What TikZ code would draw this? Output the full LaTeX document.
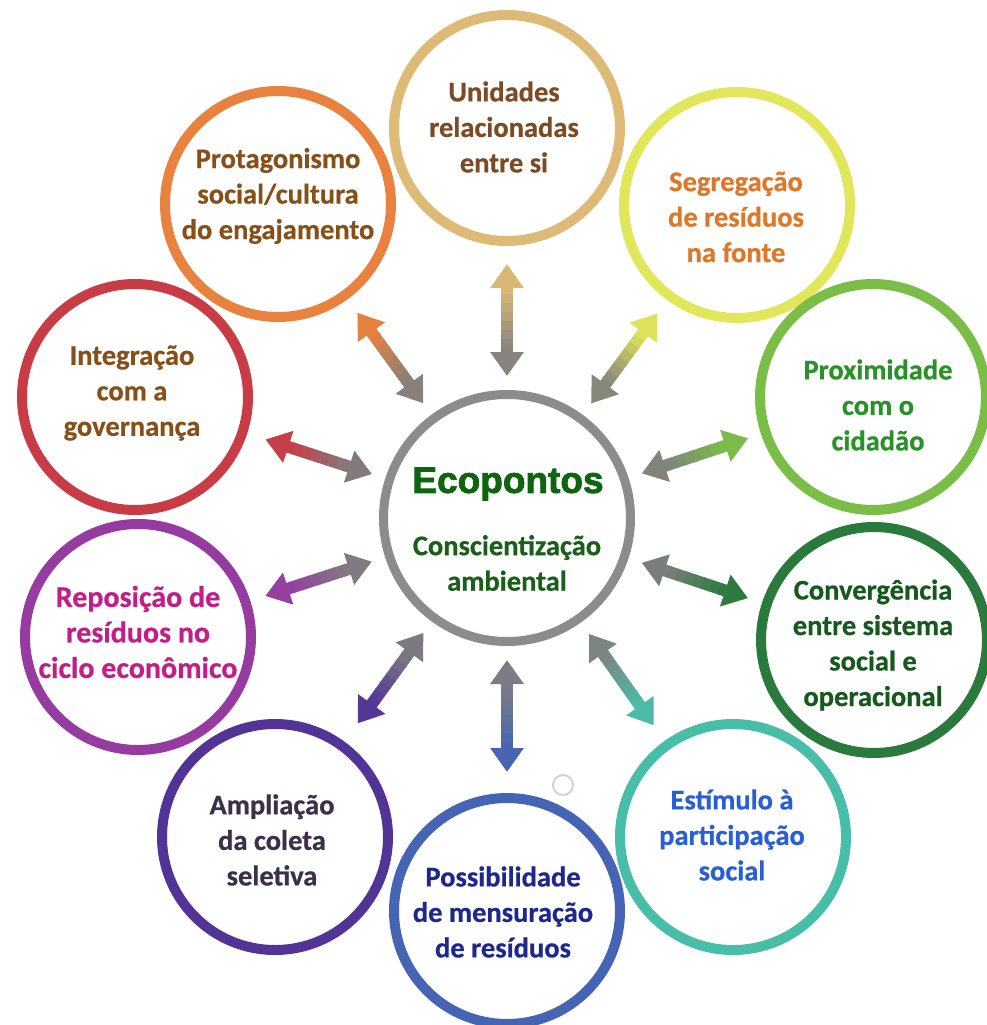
\documentclass[tikz,border=0pt]{standalone}
\usepackage{fontspec}
\setmainfont[BoldFeatures={FakeBold=0.6}]{Carlito}
\newfontfamily\ecofont[BoldFeatures={FakeBold=2.2}]{Liberation Sans}
\usetikzlibrary{calc,arrows.meta}
\definecolor{cUni}{RGB}{221,186,118}
\definecolor{tUni}{RGB}{125,75,35}
\definecolor{cSeg}{RGB}{226,230,90}
\definecolor{tSeg}{RGB}{222,120,40}
\definecolor{cPro}{RGB}{122,190,72}
\definecolor{tPro}{RGB}{40,145,40}
\definecolor{cCon}{RGB}{42,122,62}
\definecolor{tCon}{RGB}{22,88,30}
\definecolor{cEst}{RGB}{72,190,168}
\definecolor{tEst}{RGB}{40,95,215}
\definecolor{cPos}{RGB}{70,100,180}
\definecolor{tPos}{RGB}{30,40,140}
\definecolor{cAmp}{RGB}{82,52,150}
\definecolor{tAmp}{RGB}{58,48,72}
\definecolor{cRep}{RGB}{150,60,160}
\definecolor{tRep}{RGB}{195,30,135}
\definecolor{cInt}{RGB}{200,60,70}
\definecolor{tInt}{RGB}{135,80,25}
\definecolor{cPrt}{RGB}{232,130,62}
\definecolor{cCen}{RGB}{140,140,140}
\definecolor{tEco}{RGB}{15,100,15}
\definecolor{tAmb}{RGB}{25,95,25}
\definecolor{cDot}{RGB}{210,210,210}
\tikzset{
  ring/.style={circle, draw=#1, line width=10pt, minimum size=226pt, inner sep=0pt},
  lbl/.style={text=#1, align=center, inner sep=0pt, font=\fontsize{28.5}{35.5}\selectfont\bfseries},
}
\newcommand\duo[2]{%
  \draw[line width=12pt, #2!8!gray, {Triangle[length=24pt,width=32pt]}-]
     ($(c)!142pt!(#1)$) -- ($(c)!172pt!(#1)$);
  \foreach \k in {0,...,5}{
    \pgfmathsetmacro\da{170+\k*9}
    \pgfmathsetmacro\db{\da+10}
    \pgfmathsetmacro\pc{int(15+\k*14)}
    \draw[line width=12pt, #2!\pc!gray] ($(c)!\da pt!(#1)$) -- ($(c)!\db pt!(#1)$);
  }
  \draw[line width=12pt, #2!95!gray, -{Triangle[length=24pt,width=32pt]}]
     ($(c)!224pt!(#1)$) -- ($(c)!254pt!(#1)$);
}
\begin{document}
\begin{tikzpicture}[x=1pt,y=-1pt]
\useasboundingbox[fill=white] (0,0) rectangle (987,1025);
% centre
\node[circle, draw=cCen, line width=9pt, minimum size=247pt, inner sep=0pt] (c) at (507,518) {};
\node[text=tEco, inner sep=0pt, font=\ecofont\fontsize{37}{40}\selectfont\bfseries] (eco) at (508,484) {Ecopontos};
\node[lbl=tAmb] (amb) at (507,563) {Conscientização\\ambiental};
% outer circles
\node[ring=cUni] (o1) at (507,128) {};
\node[ring=cSeg] (o2) at (737,205) {};
\node[ring=cPro] (o3) at (873,397) {};
\node[ring=cCon] (o4) at (874,640) {};
\node[ring=cEst] (o5) at (733,837) {};
\node[ring=cPos] (o6) at (507,911) {};
\node[ring=cAmp] (o7) at (275,837) {};
\node[ring=cRep] (o8) at (138,637) {};
\node[ring=cInt] (o9) at (135,397) {};
\node[ring=cPrt] (o10) at (278,204) {};
% labels
\node[lbl=tUni] (t1) at (504,127) {Unidades\\relacionadas\\entre si};
\node[lbl=tSeg] (t2) at (736,217) {Segregação\\de resíduos\\na fonte};
\node[lbl=tPro] (t3) at (878,405) {Proximidade\\com o\\cidadão};
\node[lbl=tCon] (t4) at (873,645) {Convergência\\entre sistema\\social e\\operacional};
\node[lbl=tEst] (t5) at (732,835) {Estímulo à\\participação\\social};
\node[lbl=tPos] (t6) at (503,912) {Possibilidade\\de mensuração\\de resíduos};
\node[lbl=tAmp] (t7) at (272,840) {Ampliação\\da coleta\\seletiva};
\node[lbl=tRep, font=\fontsize{30}{35.5}\selectfont\bfseries] (t8) at (138,632) {Reposição de\\resíduos no\\ciclo econômico};
\node[lbl=tInt] (t9) at (132,393) {Integração\\com a\\governança};
\node[lbl=tInt] (t10) at (278,196) {Protagonismo\\social/cultura\\do engajamento};
% arrows
\duo{o1}{cUni}
\duo{o2}{cSeg}
\duo{o3}{cPro}
\duo{o4}{cCon}
\duo{o5}{cEst}
\duo{o6}{cPos}
\duo{o7}{cAmp}
\duo{o8}{cRep}
\duo{o9}{cInt}
\duo{o10}{cPrt}
% small faint circle
\node[circle, draw=cDot, line width=2pt, minimum size=20pt, inner sep=0pt] (dot) at (563,785) {};
\end{tikzpicture}
\end{document}
